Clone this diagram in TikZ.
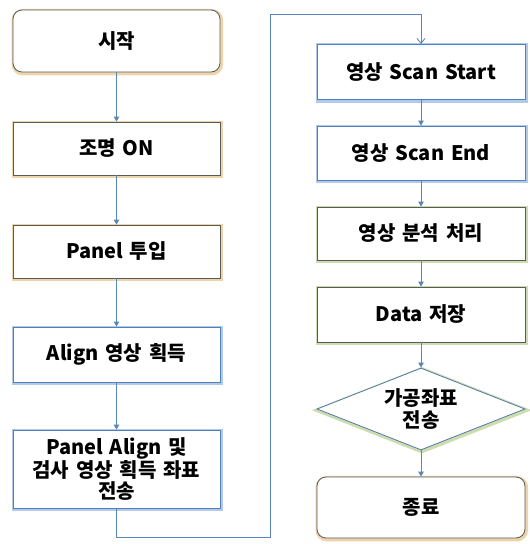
\documentclass[tikz,border=0pt]{standalone}
\usepackage{fontspec}
\setmainfont{Noto Sans CJK KR}[WordSpace=1.5]
\usepackage{xcolor}
\usepackage{tikz}
\usetikzlibrary{shapes.geometric,arrows.meta}
\definecolor{edge}{HTML}{5A5A5A}
\definecolor{blueedge}{HTML}{4F81BD}
\definecolor{arrow}{HTML}{5B86B8}
\definecolor{glowtan}{HTML}{E2B874}
\definecolor{glowblue}{HTML}{7FA6D8}
\definecolor{glowgrn}{HTML}{B5CC86}
\tikzset{
  box/.style={draw=edge, fill=white, line width=0.8pt, minimum width=207pt,
    minimum height=54pt, align=center, inner sep=2pt,
    font=\fontsize{20}{21.5}\selectfont\bfseries},
  tanbox/.style={box, preaction={draw=glowtan, line width=4.5pt, opacity=0.6,
    transform canvas={shift={(0.8pt,-1.2pt)}}}},
  bluebox/.style={box, draw=blueedge, preaction={draw=glowblue, line width=4.5pt, opacity=0.6,
    transform canvas={shift={(0.8pt,-1.2pt)}}}},
  grnbox/.style={box, preaction={draw=glowgrn, line width=4.5pt, opacity=0.65,
    transform canvas={shift={(0.8pt,-1.2pt)}}}},
  termbox/.style={tanbox, rounded corners=9pt},
  decide/.style={grnbox, draw=blueedge!80!edge, diamond, aspect=2.5, minimum width=208pt,
    minimum height=82pt, inner sep=0pt},
  flow/.style={draw=arrow, line width=0.9pt, -{Triangle[width=5.5pt,length=5pt]}},
}

\begin{document}
\begin{tikzpicture}[x=1pt, y=-1pt]
  \useasboundingbox[fill=white] (0,0) rectangle (530,544);
  % left column
  \node[termbox, minimum height=62pt] (start) at (116.5,41) {시작};
  \node[tanbox, minimum height=53pt] (light) at (116.5,148.5) {조명 ON};
  \node[tanbox, minimum height=53pt] (load) at (116.5,251.5) {Panel 투입};
  \node[bluebox, minimum height=55pt] (align) at (116.5,354.5) {Align 영상 획득};
  \node[bluebox, minimum height=78pt] (coord) at (116.5,469) {Panel Align 및\\검사 영상 획득 좌표\\전송};
  % right column
  \node[bluebox, minimum width=208pt, minimum height=55pt] (scan) at (421,72) {영상 Scan Start};
  \node[bluebox, minimum width=208pt, minimum height=54pt] (scanend) at (421,153) {영상 Scan End};
  \node[grnbox, minimum width=208pt, minimum height=53pt] (anal) at (421,233.5) {영상 분석 처리};
  \node[grnbox, minimum width=208pt, minimum height=55pt] (data) at (421,314.5) {Data 저장};
  \node[decide] (send) at (421,409) {가공좌표\\전송};
  \node[termbox, minimum width=208pt, minimum height=61pt] (stop) at (421,507.5) {종료};

  \coordinate (c1) at (270,537);
  \coordinate (c2) at (270,14);

  \draw[flow] (start) -- (light);
  \draw[flow] (light) -- (load);
  \draw[flow] (load) -- (align);
  \draw[flow] (align) -- (coord);
  \draw[flow, -{Straight Barb[width=8pt,length=5pt]}] (coord.south) |- (c1) -- (c2) -| (scan.north);
  \draw[flow] (scan) -- (scanend);
  \draw[flow] (scanend) -- (anal);
  \draw[flow] (anal) -- (data);
  \draw[flow] (data) -- (send);
  \draw[flow] (send) -- (stop);
\end{tikzpicture}
\end{document}
